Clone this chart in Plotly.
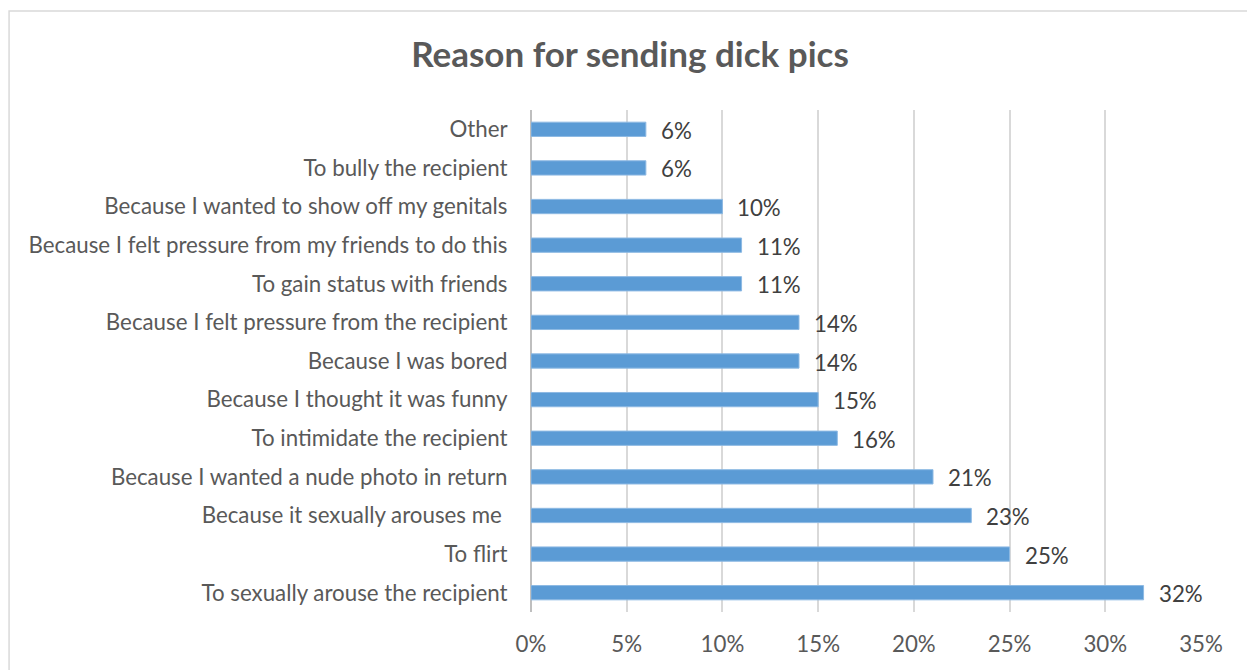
import plotly.graph_objects as go

# Survey responses, listed top to bottom as they appear on the chart
reasons = [
    "Other",
    "To bully the recipient",
    "Because I wanted to show off my genitals",
    "Because I felt pressure from my friends to do this",
    "To gain status with friends",
    "Because I felt pressure from the recipient",
    "Because I was bored",
    "Because I thought it was funny",
    "To intimidate the recipient",
    "Because I wanted a nude photo in return",
    "Because it sexually arouses me ",
    "To flirt",
    "To sexually arouse the recipient",
]
shares = [0.06, 0.06, 0.10, 0.11, 0.11, 0.14, 0.14, 0.15, 0.16, 0.21, 0.23, 0.25, 0.32]
x_ticks = [0.0, 0.05, 0.10, 0.15, 0.20, 0.25, 0.30, 0.35]
x_tick_labels = ["0%", "5%", "10%", "15%", "20%", "25%", "30%", "35%"]

title_text = "Reason for sending dick pics"

TEXT = "#595959"
BAR = "#5B9BD5"
GRID = "#D9D9D9"
FONT = "Lato, Open Sans, sans-serif"

fig = go.Figure()
fig.add_trace(go.Bar(
    x=shares,
    y=reasons,
    orientation="h",
    marker=dict(color=BAR, line=dict(color="#8DB9E3", width=1)),
    hoverinfo="skip",
))

# Value labels to the right of each bar
for r, v in zip(reasons, shares):
    fig.add_annotation(
        x=v, y=r, xref="x", yref="y",
        text=f"{round(v * 100)}%",
        showarrow=False, xanchor="left", yanchor="middle",
        xshift=13, yshift=-1,
        font=dict(family=FONT, size=22.3, color="#404040"),
    )

# Outer chart frame
fig.add_shape(
    type="rect", xref="paper", yref="paper",
    x0=-0.779, x1=1.08, y0=-0.13, y1=1.197,
    line=dict(color="#D9D9D9", width=1.5), fillcolor="rgba(0,0,0,0)",
    layer="below",
)

fig.update_layout(
    width=1247, height=670,
    margin=dict(l=531, r=46, t=110, b=58),
    paper_bgcolor="white", plot_bgcolor="white",
    showlegend=False,
    bargap=0.63,
    title=dict(
        text=title_text,
        x=630 / 1247, xanchor="center", xref="container",
        y=1 - 55 / 670, yanchor="middle", yref="container",
        font=dict(family=FONT, size=35, color=TEXT, weight="bold"),
    ),
    xaxis=dict(
        range=[0, 0.35],
        tickvals=x_ticks, ticktext=x_tick_labels,
        showgrid=True, gridcolor=GRID, gridwidth=1.5,
        zeroline=True, zerolinecolor="#BFBFBF", zerolinewidth=1.5,
        showline=False,
        tickfont=dict(family=FONT, size=22.3, color=TEXT),
        ticks="outside", ticklen=12, tickcolor="rgba(0,0,0,0)",
        fixedrange=True,
    ),
    yaxis=dict(
        categoryorder="array", categoryarray=reasons[::-1],
        showgrid=False, showline=False, zeroline=False,
        tickfont=dict(family=FONT, size=22.3, color=TEXT),
        ticks="outside", ticklen=18, tickcolor="rgba(0,0,0,0)",
        fixedrange=True,
    ),
)

fig.write_html("out.html")
